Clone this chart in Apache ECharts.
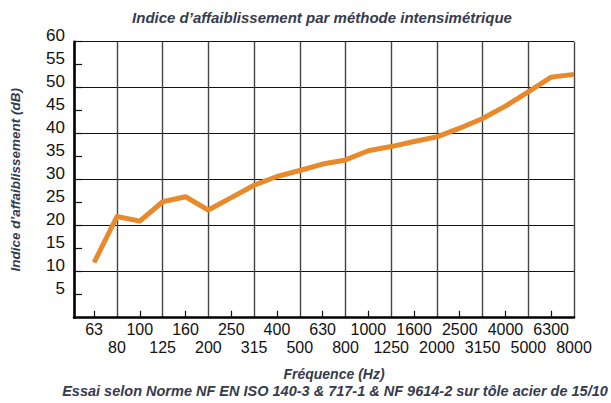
<!DOCTYPE html>
<html><head><meta charset="utf-8">
<script src="https://cdn.jsdelivr.net/npm/echarts@6/dist/echarts.min.js"></script>
<style>html,body{margin:0;padding:0;background:#fff}#c{width:611px;height:403px}</style>
</head><body><div id="c"></div>
<script>
const categories = ['63','80','100','125','160','200','250','315','400','500','630','800','1000','1250','1600','2000','2500','3150','4000','5000','6300','8000'];
const values = [12, 22, 21, 25.2, 26.3, 23.4, 26.1, 28.8, 30.7, 32, 33.4, 34.3, 36.3, 37.2, 38.3, 39.3, 41.2, 43.3, 46, 49.1, 52.3, 52.9];
const titleText = 'Indice d\u2019affaiblissement par m\u00e9thode intensim\u00e9trique';
const yName = 'Indice d\u2019affaiblissement (dB)';
const xName = 'Fr\u00e9quence (Hz)';
const noteText = 'Essai selon Norme NF EN ISO 140-3 & 717-1 & NF 9614-2 sur t\u00f4le acier de 15/10';

const idx = categories.map((c, i) => i);
const evenIdx = idx.filter(i => i % 2 === 0);
const oddIdx = idx.filter(i => i % 2 === 1);
const shift = 0.88; // gap between the y axis and the first frequency, in category steps
const oddShifted = oddIdx.map(i => i + shift);

const textCol = '#363b4e';
const fontFam = '"Liberation Sans", Arial, Helvetica, sans-serif';
const nameStyle = (size) => ({fontFamily: fontFam, fontWeight: 'bold', fontStyle: 'italic', fontSize: size, color: textCol});
const tickLabel = (margin, vals, fmt) => ({
  customValues: vals, margin: margin, fontFamily: fontFam, fontSize: 16, color: '#111',
  showMinLabel: true, showMaxLabel: true, hideOverlap: false, formatter: fmt
});

const chart = echarts.init(document.getElementById('c'), null, {renderer: 'svg'});
chart.setOption({
  animation: false,
  title: [
    {text: titleText, left: 322, top: 10, padding: 0, textAlign: 'center', textStyle: nameStyle(15)},
    {text: xName, left: 334, top: 367, padding: 0, textAlign: 'center', textStyle: nameStyle(14)},
    {text: noteText, left: 335, top: 383, padding: 0, textAlign: 'center', textStyle: nameStyle(14.5)}
  ],
  grid: [{left: 72.7, right: 37, top: 41.7, bottom: 85.3}],
  xAxis: [
    {
      type: 'value', min: -shift, max: 21,
      axisLine: {show: true, lineStyle: {color: '#000', width: 2.6}},
      axisTick: {show: true, inside: true, length: 7, customValues: evenIdx, lineStyle: {color: '#111', width: 1.2}},
      axisLabel: tickLabel(4, evenIdx, v => categories[Math.round(v)]),
      splitLine: {show: false}
    },
    {
      type: 'value', min: 0, max: 21 + shift, position: 'bottom',
      axisLine: {show: false},
      axisTick: {show: false, customValues: [0].concat(oddShifted)},
      axisLabel: tickLabel(22, oddShifted, v => categories[Math.round(v - shift)]),
      splitLine: {show: true, lineStyle: {color: '#444', width: 1.4}}
    }
  ],
  yAxis: [
    {
      type: 'value', min: 0, max: 60, interval: 10,
      axisLine: {show: false}, axisTick: {show: false}, axisLabel: {show: false},
      splitLine: {show: true, lineStyle: {color: '#111', width: 1.2}}
    },
    {
      type: 'value', min: 0, max: 60, interval: 5, position: 'left',
      name: yName, nameLocation: 'middle', nameGap: 52, nameTextStyle: nameStyle(13.5),
      axisLine: {show: true, onZero: true, onZeroAxisIndex: 1, lineStyle: {color: '#000', width: 2.6}},
      axisTick: {show: true, inside: true, length: 8, lineStyle: {color: '#111', width: 1.2}},
      axisLabel: {
        margin: 9, fontFamily: fontFam, fontSize: 17, color: '#111', verticalAlign: 'bottom', lineHeight: 12,
        formatter: v => v === 0 ? '' : String(v)
      },
      splitLine: {show: false}
    }
  ],
  series: [
    {
      type: 'line', xAxisIndex: 0, yAxisIndex: 1,
      data: values.map((v, i) => [i, v]),
      showSymbol: false, symbol: 'none',
      lineStyle: {color: '#e8892b', width: 5, join: 'round'},
      z: 5
    }
  ]
});
</script>
</body></html>
